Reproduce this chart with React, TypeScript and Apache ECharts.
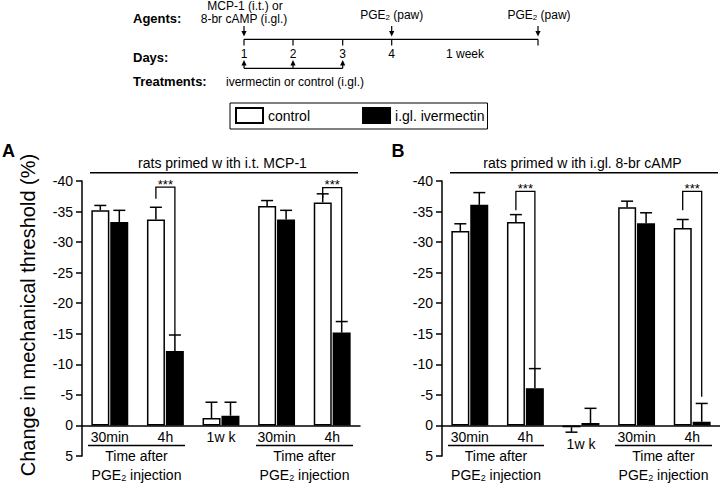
import React, { useEffect, useRef } from 'react';
import * as echarts from 'echarts';

// ---------- data ----------
const categories = ['30min', '4h', '1w k', '30min', '4h'];
const seriesNames = ['control', 'i.gl. ivermectin'];

const aControl = [-35.2, -33.7, -1.2, -35.9, -36.5];
const aControlErr = [0.8, 2.0, 2.6, 0.9, 1.4];
const aIver = [-33.3, -12.2, -1.6, -33.7, -15.2];
const aIverErr = [1.9, 2.6, 2.2, 1.5, 1.8];

const bControl = [-31.8, -33.3, 0.3, -35.7, -32.3];
const bControlErr = [1.2, 1.2, 0.8, 1.0, 1.4];
const bIver = [-36.1, -6.1, -0.4, -33.1, -0.6];
const bIverErr = [2.0, 3.2, 2.4, 1.7, 3.0];

const yMin = -40;
const yMax = 5;
const yStep = 5;

const bracketCats = [1, 4];
const aBracketTop = [-39.0, -38.9];
const aBracketLeft = [-37.1, -37.2];
const aBracketRight = [-14.8, -17.0];
const bBracketTop = [-38.3, -38.3];
const bBracketLeft = [-35.2, -35.2];
const bBracketRight = [-9.3, -4.7];
const sigLabel = '***';

const dayLabels = ['1', '2', '3', '4'];
const panelTitles = ['rats primed w ith i.t. MCP-1', 'rats primed w ith i.gl. 8-br cAMP'];

// ---------- styling ----------
const FONT = 'Liberation Sans, Arial, sans-serif';
const INK = '#000';
const BAR_W = 18;
const HALF = 9.5;

const errRender = (offset: number) => (params: any, api: any) => {
  const c = api.value(0);
  const v = api.value(1);
  const e = api.value(2);
  const end = v + (v > 0 ? e : -e);
  const p0 = api.coord([c, v]);
  const p1 = api.coord([c, end]);
  const x = p0[0] + offset;
  return {
    type: 'group',
    children: [
      { type: 'line', shape: { x1: x, y1: p0[1], x2: x, y2: p1[1] }, style: { stroke: INK, lineWidth: 1.5 } },
      { type: 'line', shape: { x1: x - 6, y1: p1[1], x2: x + 6, y2: p1[1] }, style: { stroke: INK, lineWidth: 1.5 } },
    ],
  };
};

const bracketRender = (params: any, api: any) => {
  const c = api.value(0);
  const pt = api.coord([c, api.value(1)]);
  const pl = api.coord([c, api.value(2)]);
  const pr = api.coord([c, api.value(3)]);
  const xl = pt[0] - HALF;
  const xr = pt[0] + HALF;
  return {
    type: 'group',
    children: [
      {
        type: 'polyline',
        shape: { points: [[xl, pl[1]], [xl, pt[1]], [xr, pt[1]], [xr, pr[1]]] },
        style: { stroke: INK, fill: 'none', lineWidth: 1.3 },
      },
      {
        type: 'text',
        x: pt[0],
        y: pt[1] - 3,
        style: { text: sigLabel, align: 'center', verticalAlign: 'middle', fontSize: 13, fontFamily: FONT, fill: INK },
      },
    ],
  };
};

// category labels placed just below the zero line (or below any error bar that dips under it)
const catLabelRender = (params: any, api: any) => {
  const c = api.value(0);
  const low = api.value(1);
  const p0 = api.coord([c, 0]);
  const pl = api.coord([c, low]);
  const y = Math.max(p0[1], pl[1]) + 4.5;
  return {
    type: 'text',
    x: p0[0],
    y,
    style: {
      text: categories[c],
      align: 'center',
      verticalAlign: 'top',
      fontSize: 14,
      fontFamily: FONT,
      fill: INK,
    },
  };
};

function lowestExtent(ctrl: number[], ctrlErr: number[], iv: number[], ivErr: number[]) {
  return categories.map((_, i) => {
    const ends = [
      ctrl[i] > 0 ? ctrl[i] + ctrlErr[i] : 0,
      iv[i] > 0 ? iv[i] + ivErr[i] : 0,
    ];
    return [i, Math.max(0, ...ends)];
  });
}

function txt(x: number, y: number, text: string, o: any = {}) {
  return {
    type: 'text',
    x,
    y,
    rotation: o.rotation || 0,
    style: {
      text,
      fontSize: o.size || 12,
      fontWeight: o.weight || 'normal',
      fontFamily: FONT,
      fill: INK,
      align: o.align || 'center',
      verticalAlign: 'middle',
      rich: o.rich,
    },
  };
}
function ln(x1: number, y1: number, x2: number, y2: number, w = 1.2) {
  return { type: 'line', shape: { x1, y1, x2, y2 }, style: { stroke: INK, lineWidth: w } };
}
function arrowDown(x: number) {
  return [
    ln(x, 26, x, 32),
    { type: 'polygon', shape: { points: [[x - 2.6, 31], [x + 2.6, 31], [x, 36.5]] }, style: { fill: INK } },
  ];
}
function arrowUp(x: number) {
  return [
    ln(x, 64, x, 68.3),
    { type: 'polygon', shape: { points: [[x - 2.6, 65.5], [x + 2.6, 65.5], [x, 60]] }, style: { fill: INK } },
  ];
}

const subRich12 = { sub: { fontSize: 8, fontFamily: FONT, fill: INK, verticalAlign: 'bottom', lineHeight: 8 } };
const subRich14 = { sub: { fontSize: 9, fontFamily: FONT, fill: INK, verticalAlign: 'bottom', lineHeight: 9 } };

function buildGraphic() {
  const g: any[] = [];
  // timeline
  g.push(txt(133, 18, 'Agents:', { weight: 'bold', align: 'left', size: 13 }));
  g.push(txt(133, 57, 'Days:', { weight: 'bold', align: 'left', size: 13 }));
  g.push(txt(133, 81.5, 'Treatments:', { weight: 'bold', align: 'left', size: 13 }));
  g.push(txt(245, 5.5, 'MCP-1 (i.t.) or'));
  g.push(txt(244, 18.5, '8-br cAMP (i.gl.)'));
  g.push(txt(391.7, 15, 'PGE{sub|2} (paw)', { rich: subRich12 }));
  g.push(txt(539, 15, 'PGE{sub|2} (paw)', { rich: subRich12 }));
  const dayX = [244, 293, 342.7, 391.7];
  g.push(...arrowDown(244), ...arrowDown(391.7), ...arrowDown(538));
  g.push(ln(244, 39.3, 538, 39.3));
  [...dayX, 538].forEach((x) => g.push(ln(x, 39.3, x, 45.5)));
  dayX.forEach((x, i) => g.push(txt(x, 53.5, dayLabels[i])));
  g.push(txt(465, 53.5, '1 week'));
  [244, 293, 342.7].forEach((x) => g.push(...arrowUp(x)));
  g.push(ln(244, 68.3, 342.7, 68.3));
  g.push(txt(226, 81.5, 'ivermectin or control (i.gl.)', { align: 'left' }));

  // panel letters
  g.push(txt(2, 151, 'A', { weight: 'bold', size: 18, align: 'left' }));
  g.push(txt(391.5, 150.5, 'B', { weight: 'bold', size: 18, align: 'left' }));

  // y-axis title
  g.push(txt(28, 315, 'Change in mechanical threshold (%)', { size: 20, rotation: Math.PI / 2 }));

  // panel headers
  g.push(txt(222.5, 163, panelTitles[0], { size: 14 }));
  g.push(ln(90, 172.7, 358, 172.7, 1.4));
  g.push(txt(582.5, 163, panelTitles[1], { size: 14 }));
  g.push(ln(450, 172.7, 718, 172.7, 1.4));

  // group labels under axes
  const groups = [
    [88, 185],
    [256, 353],
    [448, 544],
    [615, 712],
  ];
  groups.forEach(([x1, x2]) => {
    const cx = (x1 + x2) / 2;
    g.push(ln(x1, 445.5, x2, 445.5, 1.3));
    g.push(txt(cx, 455.5, 'Time after', { size: 14 }));
    g.push(txt(cx, 475, 'PGE{sub|2} injection', { size: 14, rich: subRich14 }));
  });
  return g;
}

function makeAxes(left: number, idx: number) {
  return {
    grid: { left, top: 181, width: 278, height: 275, outerBoundsMode: 'none', containLabel: false },
    xAxis: {
      type: 'category',
      gridIndex: idx,
      data: categories,
      axisLine: { onZero: true, lineStyle: { color: INK, width: 1.5 } },
      axisTick: { show: false },
      axisLabel: { show: false },
    },
    yAxis: {
      type: 'value',
      gridIndex: idx,
      min: yMin,
      max: yMax,
      interval: yStep,
      inverse: true,
      splitLine: { show: false },
      axisLine: { show: true, lineStyle: { color: INK, width: 1.5 } },
      axisTick: { show: true, length: 6, lineStyle: { color: INK, width: 1.5 } },
      axisLabel: { fontSize: 14, fontFamily: FONT, color: INK, margin: 9 },
    },
  };
}

function barSeries(name: string, data: number[], idx: number, fill: string) {
  return {
    type: 'bar',
    name,
    xAxisIndex: idx,
    yAxisIndex: idx,
    data,
    barWidth: BAR_W,
    barGap: '5%',
    itemStyle: { color: fill, borderColor: INK, borderWidth: 1.5 },
    z: 2,
  };
}

function errSeries(vals: number[], errs: number[], idx: number, offset: number) {
  return {
    type: 'custom',
    xAxisIndex: idx,
    yAxisIndex: idx,
    renderItem: errRender(offset),
    data: vals.map((v, i) => [i, v, errs[i]]),
    encode: { x: 0, y: 1 },
    z: 3,
    silent: true,
  };
}

function bracketSeries(tops: number[], lefts: number[], rights: number[], idx: number) {
  return {
    type: 'custom',
    xAxisIndex: idx,
    yAxisIndex: idx,
    renderItem: bracketRender,
    data: bracketCats.map((c, i) => [c, tops[i], lefts[i], rights[i]]),
    encode: { x: 0, y: 1 },
    z: 4,
    silent: true,
  };
}

function labelSeries(data: number[][], idx: number) {
  return {
    type: 'custom',
    xAxisIndex: idx,
    yAxisIndex: idx,
    renderItem: catLabelRender,
    data,
    encode: { x: 0, y: 1 },
    z: 5,
    silent: true,
    clip: false,
  };
}

export default function App() {
  const ref = useRef<HTMLDivElement>(null);
  useEffect(() => {
    if (!ref.current) return;
    const chart = echarts.init(ref.current, null, { renderer: 'svg' });
    const A = makeAxes(82, 0);
    const B = makeAxes(442, 1);
    chart.setOption({
      animation: false,
      backgroundColor: '#fff',
      textStyle: { fontFamily: FONT },
      grid: [A.grid, B.grid],
      xAxis: [A.xAxis, B.xAxis],
      yAxis: [A.yAxis, B.yAxis],
      legend: {
        data: seriesNames,
        left: 230,
        top: 103,
        orient: 'horizontal',
        padding: [4, 3, 5, 5],
        itemWidth: 27,
        itemHeight: 15,
        itemGap: 52,
        borderColor: INK,
        borderWidth: 1,
        icon: 'rect',
        textStyle: { fontSize: 14, fontFamily: FONT, color: INK },
      },
      series: [
        barSeries(seriesNames[0], aControl, 0, '#fff'),
        barSeries(seriesNames[1], aIver, 0, '#000'),
        barSeries(seriesNames[0], bControl, 1, '#fff'),
        barSeries(seriesNames[1], bIver, 1, '#000'),
        errSeries(aControl, aControlErr, 0, -HALF),
        errSeries(aIver, aIverErr, 0, HALF),
        errSeries(bControl, bControlErr, 1, -HALF),
        errSeries(bIver, bIverErr, 1, HALF),
        bracketSeries(aBracketTop, aBracketLeft, aBracketRight, 0),
        bracketSeries(bBracketTop, bBracketLeft, bBracketRight, 1),
        labelSeries(lowestExtent(aControl, aControlErr, aIver, aIverErr), 0),
        labelSeries(lowestExtent(bControl, bControlErr, bIver, bIverErr), 1),
      ],
      graphic: buildGraphic(),
    });
    return () => chart.dispose();
  }, []);
  return (
    <div
      ref={ref}
      style={{ position: 'fixed', left: 0, top: 0, width: 720, height: 484, background: '#fff' }}
    />
  );
}
